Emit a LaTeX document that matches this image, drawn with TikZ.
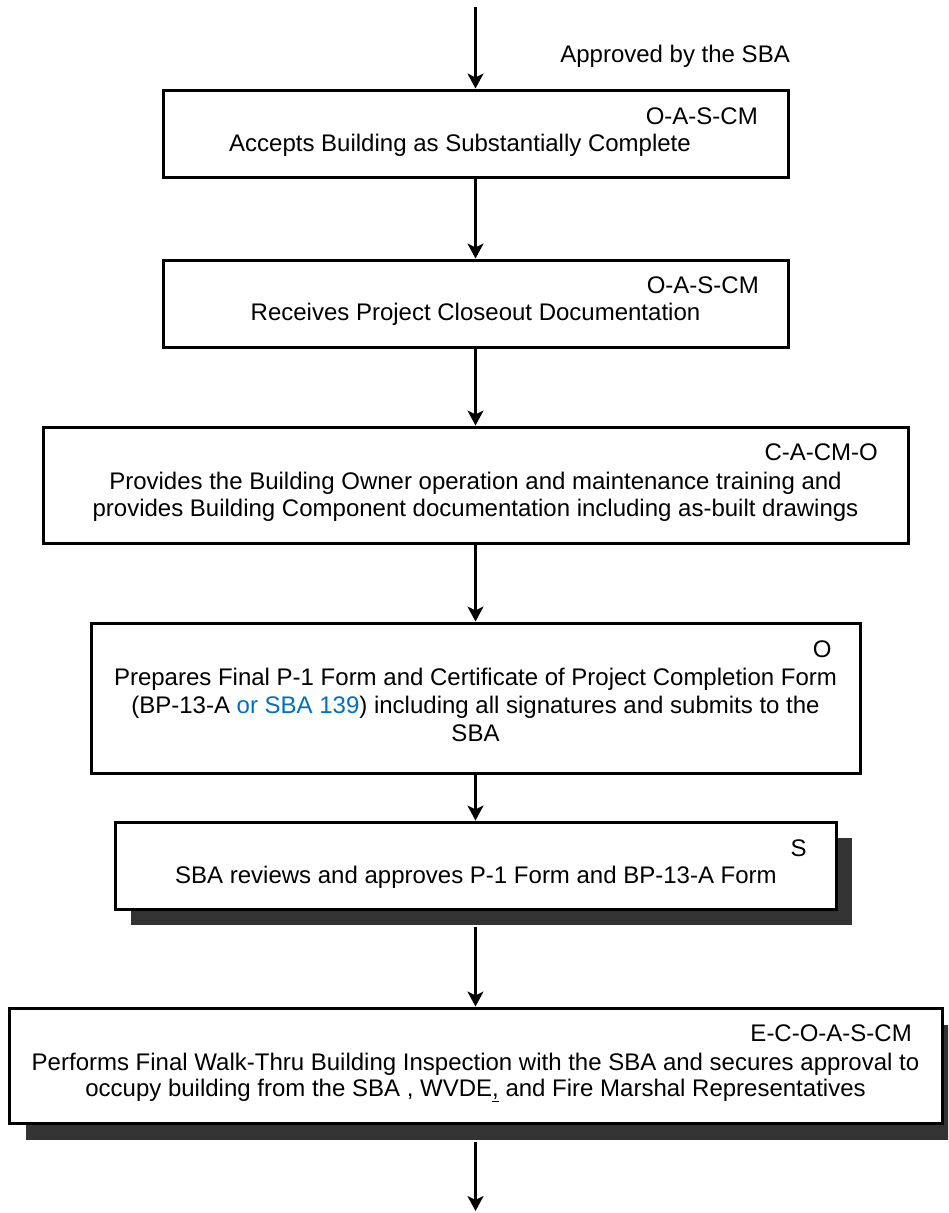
\documentclass[tikz,border=0pt]{standalone}
\usepackage{fontspec}
\setmainfont{Liberation Sans}
\usetikzlibrary{arrows.meta,shadows}
\definecolor{shadowgray}{HTML}{333333}
\definecolor{linkblue}{HTML}{0070C0}
\begin{document}
\begin{tikzpicture}[x=1pt,y=-1pt,
  box/.style={draw=black,line width=3pt,fill=white,inner sep=0pt,rectangle},
  shad/.style={drop shadow={shadow xshift=#1,shadow yshift=-#1,fill=shadowgray,opacity=1}},
  txt/.style={inner sep=0pt,anchor=base,font=\fontsize{24pt}{27.5pt}\selectfont},
  role/.style={txt,anchor=base east},
  arr/.style={line width=3.5pt,-{Stealth[length=15pt,width=16pt,inset=4pt]}}]
\useasboundingbox (0,0) rectangle (948,1213);
\clip (0,0) rectangle (948,1213);
% boxes
\node[box,minimum width=625pt,minimum height=87pt] (b1) at (475.5,133.5) {};
\node[box,minimum width=625pt,minimum height=87pt] (b2) at (475.5,303.5) {};
\node[box,minimum width=865pt,minimum height=116pt] (b3) at (475.5,485) {};
\node[box,minimum width=769pt,minimum height=150pt] (b4) at (475.5,698) {};
\node[box,shad=16pt,minimum width=721pt,minimum height=87pt] (b5) at (475.5,865.5) {};
\node[box,shad=17pt,minimum width=933pt,minimum height=115pt] (b6) at (475.5,1065.5) {};
% connectors
\coordinate (start) at (475.5,7);
\coordinate (finish) at (475.5,1211);
\draw[arr] (start) -- (b1.north);
\draw[arr] (b1.south) -- (b2.north);
\draw[arr] (b2.south) -- (b3.north);
\draw[arr] (b3.south) -- (b4.north);
\draw[arr] (b4.south) -- (b5.north);
\draw[arr] ([yshift=-16pt]b5.south) -- (b6.north);
\draw[arr] ([yshift=-17pt]b6.south) -- (finish);
% texts
\node[txt,anchor=base east] (appr) at (790,62.7) {Approved by the SBA};
\node[role] (r1) at (758,124) {O-A-S-CM};
\node[txt] (t1) at (460,151.7) {Accepts Building as Substantially Complete};
\node[role] (r2) at (759,293) {O-A-S-CM};
\node[txt] (t2) at (475.5,320) {Receives Project Closeout Documentation};
\node[role] (r3) at (878,460.7) {C-A-CM-O};
\node[txt] (t3a) at (475.5,489) {Provides the Building Owner operation and maintenance training and};
\node[txt] (t3b) at (475.5,516.5) {provides Building Component documentation including as-built drawings};
\node[role] (r4) at (831.7,657.3) {O};
\node[txt] (t4a) at (475.5,685.7) {Prepares Final P-1 Form and Certificate of Project Completion Form};
\node[txt] (t4b) at (475.5,713.3) {(BP-13-A \textcolor{linkblue}{or SBA 139}) including all signatures and submits to the};
\node[txt] (t4c) at (475.5,741) {SBA};
\node[role] (r5) at (806.7,856) {S};
\node[txt] (t5) at (476,883.3) {SBA reviews and approves P-1 Form and BP-13-A Form};
\node[role] (r6) at (912,1041.7) {E-C-O-A-S-CM};
\node[txt] (t6a) at (475.5,1070) {Performs Final Walk-Thru Building Inspection with the SBA and secures approval to};
\node[txt] (t6b) at (475.5,1096.7) {occupy building from the SBA , WVDE\underline{,} and Fire Marshal Representatives};
\end{tikzpicture}
\end{document}
